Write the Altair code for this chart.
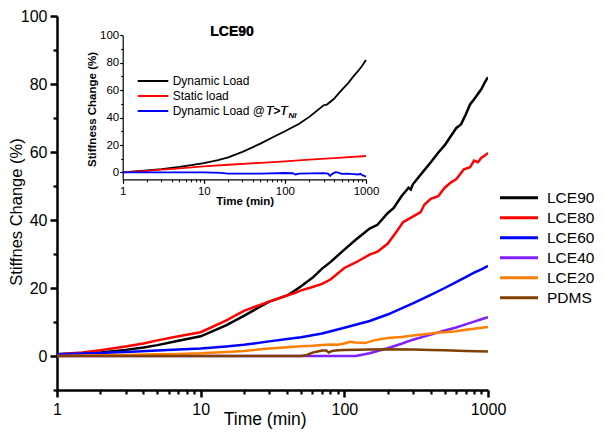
import altair as alt
import pandas as pd

FONT = "Liberation Sans"

# ---------------- main chart data (time in min, stiffness change in %) ----------------
series_names = ["LCE90", "LCE80", "LCE60", "LCE40", "LCE20", "PDMS"]
series_colors = ["#000000", "#FF0000", "#0000FF", "#8020FF", "#FF8000", "#804000"]

lce90_t = [1, 1.5, 2, 3, 4, 5, 7, 10, 15, 20, 30, 40, 45, 50, 60, 70, 80, 100, 120, 150, 170, 200, 220,
           250, 280, 290, 300, 350, 400, 450, 500, 600, 650, 700, 750, 800, 900, 950, 1000]
lce90_v = [0.5, 0.7, 1.0, 1.8, 2.5, 3.2, 4.5, 5.8, 9.0, 11.8, 16.0, 17.8, 19.2, 20.5, 23.0, 25.7, 27.6, 31.3,
           34.2, 37.5, 38.6, 42.0, 43.5, 47.0, 49.5, 49.0, 50.5, 54.0, 57.0, 59.8, 62.0, 67.0, 68.2, 71.0,
           74.0, 75.5, 78.5, 80.5, 82.0]

lce80_t = [1, 1.5, 2, 3, 4, 5, 7, 10, 15, 20, 30, 40, 45, 50, 60, 70, 80, 100, 120, 150, 170, 200, 230,
           257, 300, 340, 360, 400, 450, 500, 550, 600, 680, 750, 800, 850, 900, 950, 1000]
lce80_v = [0.5, 1.0, 1.7, 2.8, 3.7, 4.6, 5.8, 7.0, 10.4, 13.3, 16.0, 17.8, 18.5, 19.3, 20.3, 21.2, 22.5, 25.9,
           27.5, 29.8, 30.7, 33.0, 36.5, 39.4, 41.0, 42.3, 44.5, 46.2, 47.0, 49.5, 51.0, 52.0, 54.9, 55.5,
           57.5, 57.0, 58.3, 59.0, 59.7]

lce60_t = [1, 2, 3, 5, 7, 10, 15, 20, 30, 40, 50, 70, 100, 150, 200, 300, 400, 500, 600, 700, 800, 900, 1000]
lce60_v = [0.5, 0.9, 1.2, 1.6, 1.9, 2.2, 2.8, 3.3, 4.3, 5.0, 5.5, 6.6, 8.3, 10.3, 12.2, 15.5, 18.0, 20.0,
           21.7, 23.2, 24.5, 25.5, 26.5]

lce40_t = [1, 50, 120, 150, 200, 250, 300, 400, 500, 600, 700, 800, 900, 1000]
lce40_v = [0, 0, 0, 0.8, 2.3, 3.6, 4.8, 6.3, 7.5, 8.4, 9.3, 10.1, 10.8, 11.4]

lce20_t = [1, 2, 3, 5, 7, 10, 15, 20, 25, 30, 40, 50, 60, 70, 80, 90, 100, 110, 120, 140, 160, 200, 250,
           300, 350, 400, 450, 500, 600, 700, 800, 900, 1000]
lce20_v = [0, 0.2, 0.3, 0.5, 0.6, 0.8, 1.2, 1.5, 1.9, 2.2, 2.6, 2.9, 3.0, 3.2, 3.4, 3.3, 3.7, 4.2, 4.0, 3.8,
           4.6, 5.3, 5.6, 6.0, 6.3, 6.6, 6.9, 7.0, 7.3, 7.7, 8.0, 8.3, 8.5]

pdms_t = [1, 50, 55, 60, 65, 70, 75, 78, 82, 90, 100, 150, 200, 300, 400, 500, 700, 1000]
pdms_v = [0, 0, 0.3, 1.0, 1.3, 1.6, 1.6, 1.0, 1.5, 1.7, 1.8, 1.9, 2.0, 1.9, 1.8, 1.7, 1.5, 1.3]

# ---------------- inset data (LCE90) ----------------
inset_names = ["Dynamic Load", "Static load", "Dynamic Load @"]
inset_colors = ["#000000", "#FF0000", "#0000FF"]

dyn_t = [1, 2, 3, 5, 7, 10, 15, 20, 30, 50, 70, 100, 150, 200, 300, 330, 400, 500, 600, 700, 800, 900, 1000]
dyn_v = [0, 1.5, 2.4, 4.0, 5.3, 6.8, 9.0, 11.0, 15.0, 21.0, 25.5, 30.0, 35.5, 40.5, 49.0, 49.5, 53.5, 60.0,
         65.0, 70.0, 74.0, 78.0, 82.0]

static_t = [1, 2, 3, 5, 10, 20, 50, 100, 200, 500, 1000]
static_v = [0, 1.2, 2.0, 3.0, 4.4, 5.6, 7.0, 8.0, 9.3, 10.8, 12.0]

hot_t = [1, 10, 16, 20, 50, 100, 125, 135, 150, 300, 340, 360, 380, 420, 450, 500, 600, 700, 800, 850,
         900, 950, 1000]
hot_v = [0, 0, -0.3, -0.8, -0.8, -0.4, -0.6, -1.5, -0.9, -0.5, -0.9, -2.5, -1.2, 0.2, 0.0, -1.0, -0.8,
         -1.2, -1.5, -1.0, -2.0, -2.5, -3.0]

# ---------------- axis tick values ----------------
main_x_major = [1, 10, 100, 1000]
main_x_minor = [2, 3, 4, 5, 6, 7, 8, 9, 20, 30, 40, 50, 60, 70, 80, 90, 200, 300, 400, 500, 600, 700, 800, 900]
main_y_major = [0, 20, 40, 60, 80, 100]
main_y_minor = [-10, 10, 30, 50, 70, 90]
inset_y_major = [0, 20, 40, 60, 80, 100]
inset_y_minor = [10, 30, 50, 70, 90]

# ---------------- build tables ----------------
def table(ts, vs, name):
    return pd.DataFrame({"t": ts, "v": vs, "s": name})

main_df = pd.concat([
    table(lce90_t, lce90_v, "LCE90"), table(lce80_t, lce80_v, "LCE80"),
    table(lce60_t, lce60_v, "LCE60"), table(lce40_t, lce40_v, "LCE40"),
    table(lce20_t, lce20_v, "LCE20"), table(pdms_t, pdms_v, "PDMS"),
], ignore_index=True)
main_df["o"] = main_df["s"].map({n: i for i, n in enumerate(series_names)})

inset_df = pd.concat([
    table(dyn_t, dyn_v, inset_names[0]), table(static_t, static_v, inset_names[1]),
    table(hot_t, hot_v, inset_names[2]),
], ignore_index=True)

W, H = 431, 374
TOP = 8  # plot top is at page y = 8 + TOP
# inset placement inside the plot area (pixels)
IX0, IX1 = 65.7, 309.0
IY0, IY1 = 163.3, 19.3

main_xs = alt.Scale(type="log", domain=[1, 1000], nice=False)
main_ys = alt.Scale(domain=[-10, 100], nice=False, zero=False)
inset_xs = alt.Scale(type="log", domain=[1, 1000], nice=False, range=[IX0, IX1])
inset_ys = alt.Scale(domain=[-5, 100], nice=False, zero=False, range=[IY0, IY1])

main_color = alt.Scale(domain=series_names, range=series_colors)
inset_color = alt.Scale(domain=inset_names, range=inset_colors)

# main lines with major axes
main_lines = alt.Chart(main_df).mark_line(strokeWidth=2.5, clip=True).encode(
    x=alt.X("t:Q", scale=main_xs, axis=alt.Axis(
        orient="bottom", values=main_x_major, format="d", tickSize=7, tickWidth=2.5,
        domainWidth=2.5, labelFontSize=16, labelPadding=4, labelFlush=False, labelOverlap=False,
        grid=False, title="Time (min)", titleFontSize=17.5, titleFontWeight="normal",
        titleX=207.7, titleY=34.5, titleBaseline="alphabetic")),
    y=alt.Y("v:Q", scale=main_ys, axis=alt.Axis(
        orient="left", values=main_y_major, tickSize=7, tickWidth=2.5, domainWidth=2.5,
        labelFontSize=16, labelPadding=3, labelFlush=False, labelOverlap=False, grid=False,
        title="Stiffnes Change (%)", titleFontSize=16.5, titleFontWeight="normal",
        titleX=-35.5, titleY=195.5, titleBaseline="alphabetic")),
    color=alt.Color("s:N", scale=main_color, legend=None),
    order=alt.Order("o:Q"),
)

frame_df = pd.DataFrame({"t": [1, 1000], "v": [0, 0]})

main_minor = alt.Chart(frame_df).mark_point(opacity=0).encode(
    x=alt.X("t:Q", scale=main_xs, axis=alt.Axis(
        orient="bottom", values=main_x_minor, labels=False, domain=False, tickSize=4,
        tickWidth=2.2, grid=False, title=None)),
    y=alt.Y("v:Q", scale=main_ys, axis=alt.Axis(
        orient="left", values=main_y_minor, labels=False, domain=False, tickSize=4,
        tickWidth=2.2, grid=False, title=None)),
)

inset_lines = alt.Chart(inset_df).mark_line(strokeWidth=1.8).encode(
    x=alt.X("t:Q", scale=inset_xs, axis=alt.Axis(
        orient="bottom", offset=-(H - IY0), values=main_x_major, format="d", tickSize=4,
        tickWidth=1.2, domainWidth=1.2, labelFontSize=11.5, labelPadding=2, labelFlush=False,
        labelOverlap=False, grid=False, title="Time (min)", titleFontSize=11.5,
        titleFontWeight="bold", titleX=187.7, titleY=24.7, titleBaseline="alphabetic")),
    y=alt.Y("v:Q", scale=inset_ys, axis=alt.Axis(
        orient="left", offset=-IX0, values=inset_y_major, tickSize=3, tickWidth=1.2,
        domainWidth=1.2, labelFontSize=11.5, labelPadding=1, labelFlush=False,
        labelOverlap=False, grid=False, title="Stiffness Change (%)", titleFontSize=11.5,
        titleFontWeight="bold", titleX=-27.7, titleY=93, titleBaseline="alphabetic")),
    color=alt.Color("s:N", scale=inset_color, legend=None),
)

inset_minor = alt.Chart(frame_df).mark_point(opacity=0).encode(
    x=alt.X("t:Q", scale=inset_xs, axis=alt.Axis(
        orient="bottom", offset=-(H - IY0), values=main_x_minor, labels=False, domain=False,
        tickSize=2.5, tickWidth=1.1, grid=False, title=None)),
    y=alt.Y("v:Q", scale=inset_ys, axis=alt.Axis(
        orient="left", offset=-IX0, values=inset_y_minor, labels=False, domain=False,
        tickSize=2, tickWidth=1.1, grid=False, title=None)),
)

# main legend
leg_df = pd.DataFrame({"s": series_names})
leg_y = alt.Y("s:N", scale=alt.Scale(type="point", domain=series_names, range=[181.7, 281.7], padding=0),
              axis=None)
leg_rules = alt.Chart(leg_df).mark_rule(strokeWidth=3).encode(
    x=alt.value(443), x2=alt.value(481), y=leg_y,
    color=alt.Color("s:N", scale=main_color, legend=None))
leg_text = alt.Chart(leg_df).mark_text(align="left", baseline="middle", fontSize=15.5, font=FONT,
                                       color="black").encode(
    x=alt.value(490), y=leg_y, text="s:N")

# inset legend
ileg_df = pd.DataFrame({"s": inset_names})
ileg_y = alt.Y("s:N", scale=alt.Scale(type="point", domain=inset_names, range=[65, 95], padding=0),
               axis=None)
ileg_rules = alt.Chart(ileg_df).mark_rule(strokeWidth=2).encode(
    x=alt.value(80.7), x2=alt.value(111.3), y=ileg_y,
    color=alt.Color("s:N", scale=inset_color, legend=None))
ileg_text = alt.Chart(ileg_df).mark_text(align="left", baseline="middle", fontSize=12, font=FONT,
                                         color="black").encode(
    x=alt.value(115.7), y=ileg_y, text="s:N")
ileg_tt = alt.Chart(frame_df).mark_text(align="left", baseline="middle", fontSize=12, font=FONT,
                                        fontStyle="italic", color="black", text="T>T").encode(
    x=alt.value(209), y=alt.value(95))
ileg_sub = alt.Chart(frame_df).mark_text(align="left", baseline="middle", fontSize=8, font=FONT,
                                         fontStyle="italic", color="black", text="NI").encode(
    x=alt.value(231.5), y=alt.value(100))
inset_title = alt.Chart(frame_df).mark_text(align="center", baseline="middle", fontSize=14, font=FONT,
                                            fontWeight="bold", color="black", text="LCE90").encode(
    x=alt.value(175), y=alt.value(16.3))

chart = alt.layer(
    main_lines, main_minor, inset_lines, inset_minor,
    leg_rules, leg_text, ileg_rules, ileg_text, ileg_tt, ileg_sub, inset_title,
).resolve_scale(
    x="independent", y="independent", color="independent"
).resolve_axis(
    x="independent", y="independent"
).properties(
    width=W, height=H,
    autosize=alt.AutoSizeParams(type="none"),
    padding={"left": 49, "top": TOP, "right": 108, "bottom": 421 - TOP - H},
).configure_view(
    stroke=None
).configure_axis(
    labelFont=FONT, titleFont=FONT, domainColor="black", tickColor="black",
    labelColor="black", titleColor="black"
).configure_text(font=FONT)

chart.save("out.html", embed_options={"renderer": "svg", "actions": False})
